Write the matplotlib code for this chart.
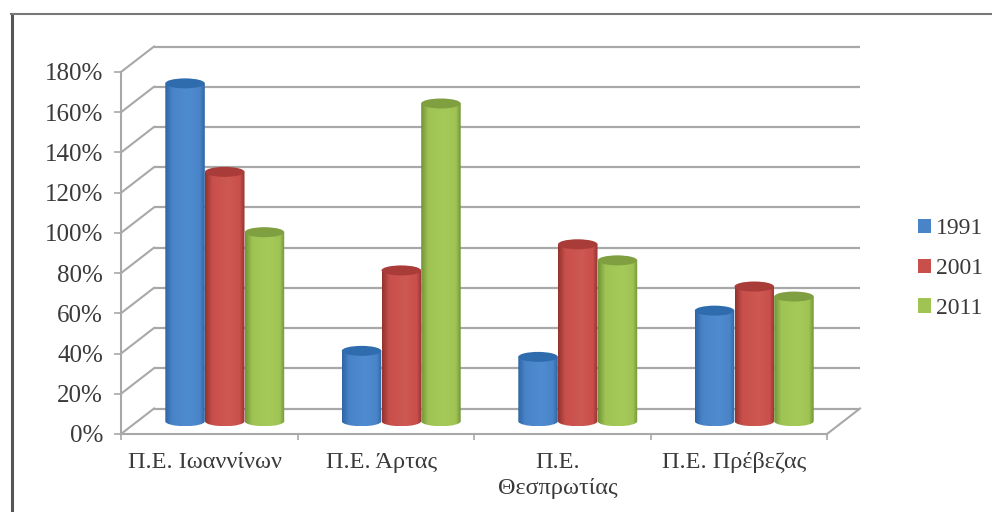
import numpy as np
import matplotlib
matplotlib.use("Agg")
import matplotlib.pyplot as plt
from matplotlib.colors import LinearSegmentedColormap
from matplotlib.lines import Line2D
from matplotlib.patches import Ellipse, Patch, PathPatch
from matplotlib.path import Path

categories = ["Π.Ε. Ιωαννίνων", "Π.Ε. Άρτας", "Π.Ε.\nΘεσπρωτίας", "Π.Ε. Πρέβεζας"]
years = ["1991", "2001", "2011"]
values_1991 = [168, 35, 32, 55]
values_2001 = [124, 75, 88, 67]
values_2011 = [94, 158, 80, 62]
y_ticks = [0, 20, 40, 60, 80, 100, 120, 140, 160, 180]
y_tick_labels = [f"{v}%" for v in y_ticks]

series = [values_1991, values_2001, values_2011]
mid_colors = ["#4A84C8", "#C94F4B", "#A0C454"]
edge_colors = ["#2F65A6", "#93332F", "#739539"]
light_colors = ["#4F8BD0", "#CE5853", "#A6CA5A"]
cap_colors = ["#2F6CAE", "#A93B38", "#7F9F40"]

W, H = 992, 512
plt.rcParams["font.family"] = ["Liberation Serif", "DejaVu Serif"]
fig = plt.figure(figsize=(W / 100, H / 100), dpi=100, facecolor="white")
ax = fig.add_axes([121 / W, (H - 434) / H, (827 - 121) / W, (434 - 72) / H])
ax.patch.set_visible(False)

px_x = 4 / (827 - 121)
px_y = 180 / (434 - 72)
depth_x = 33 * px_x
depth_y = 25.5 * px_y
grid_col = "#A8A8A8"

# Back wall and side wall gridlines
for v in y_ticks:
    ax.plot([depth_x, 4 + depth_x], [v + depth_y] * 2, color=grid_col, lw=1.6,
            clip_on=False, zorder=1, solid_capstyle="butt")
    ax.plot([0, depth_x], [v, v + depth_y], color=grid_col, lw=1.5,
            clip_on=False, zorder=1)
ax.plot([4, 4 + depth_x], [0, depth_y], color=grid_col, lw=1.5, clip_on=False, zorder=1)

# Cylinders
width = 39.5 * px_x
step = 39.7 * px_x
rx = width / 2
ry = 5 * px_y
shift_x = depth_x / 2 - 1 * px_x
base = depth_y / 2
for j, vals in enumerate(series):
    cmap = LinearSegmentedColormap.from_list(
        f"c{j}", [(0, edge_colors[j]), (0.18, mid_colors[j]), (0.6, light_colors[j]),
                  (0.88, mid_colors[j]), (1, edge_colors[j])])
    for i, v in enumerate(vals):
        cx = i + 0.5 + shift_x + (j - 1) * step
        x0, x1 = cx - rx, cx + rx
        y0, y1 = base, base + v
        k = 0.5523
        verts = [(x0, y1), (x0, y0), (x0, y0 - k * ry), (cx - k * rx, y0 - ry), (cx, y0 - ry),
                 (cx + k * rx, y0 - ry), (x1, y0 - k * ry), (x1, y0), (x1, y1), (x0, y1)]
        codes = [Path.MOVETO, Path.LINETO, Path.CURVE4, Path.CURVE4, Path.CURVE4,
                 Path.CURVE4, Path.CURVE4, Path.CURVE4, Path.LINETO, Path.CLOSEPOLY]
        clip = PathPatch(Path(verts, codes), fc="none", ec="none", transform=ax.transData)
        ax.add_patch(clip)
        im = ax.imshow(np.linspace(0, 1, 64).reshape(1, -1), cmap=cmap, vmin=0, vmax=1,
                       extent=[x0, x1, y0 - ry, y1], aspect="auto", zorder=3 + j * 0.1,
                       interpolation="bilinear")
        im.set_clip_path(clip)
        ax.add_patch(Ellipse((cx, y1), width, 2 * ry, fc=cap_colors[j], ec="none",
                             zorder=3.05 + j * 0.1, clip_on=False))

ax.set_xlim(0, 4)
ax.set_ylim(0, 180)
ax.set_aspect("auto")

for s in ("top", "right"):
    ax.spines[s].set_visible(False)
for s in ("left", "bottom"):
    ax.spines[s].set_color(grid_col)
    ax.spines[s].set_linewidth(1.5)
    ax.spines[s].set_zorder(2)

ax.set_yticks(y_ticks)
ax.set_yticklabels(y_tick_labels, fontsize=18, color="#3A3A3A")
ax.tick_params(axis="y", length=5, width=1.2, color=grid_col, pad=8)
ax.set_xticks(range(5))
ax.set_xticklabels([""] * 5)
ax.tick_params(axis="x", which="major", length=4, width=1.2, color=grid_col)
ax.set_xticks(np.arange(4) + 0.475, minor=True)
ax.set_xticklabels(categories, minor=True, fontsize=17.5, color="#3A3A3A", linespacing=1.3,
                   va="top")
ax.tick_params(axis="x", which="minor", length=0, pad=13)

handles = [Patch(fc=c, ec="none") for c in mid_colors]
ax.legend(handles, years, loc="center left", bbox_to_anchor=(918 / W, (H - 268.5) / H),
          bbox_transform=fig.transFigure, frameon=False, fontsize=17, handlelength=0.55,
          handleheight=0.55, handletextpad=0.2, labelspacing=0.8, labelcolor="#3A3A3A",
          borderaxespad=0, borderpad=0)

# Outer frame of the picture
fig.add_artist(Line2D([12 / W, 12 / W], [0, (H - 14) / H], color="#555555", lw=2.2))
fig.add_artist(Line2D([11 / W, 1], [(H - 14) / H] * 2, color="#777777", lw=1.5))

fig.savefig("out.png", dpi=100, facecolor="white")
